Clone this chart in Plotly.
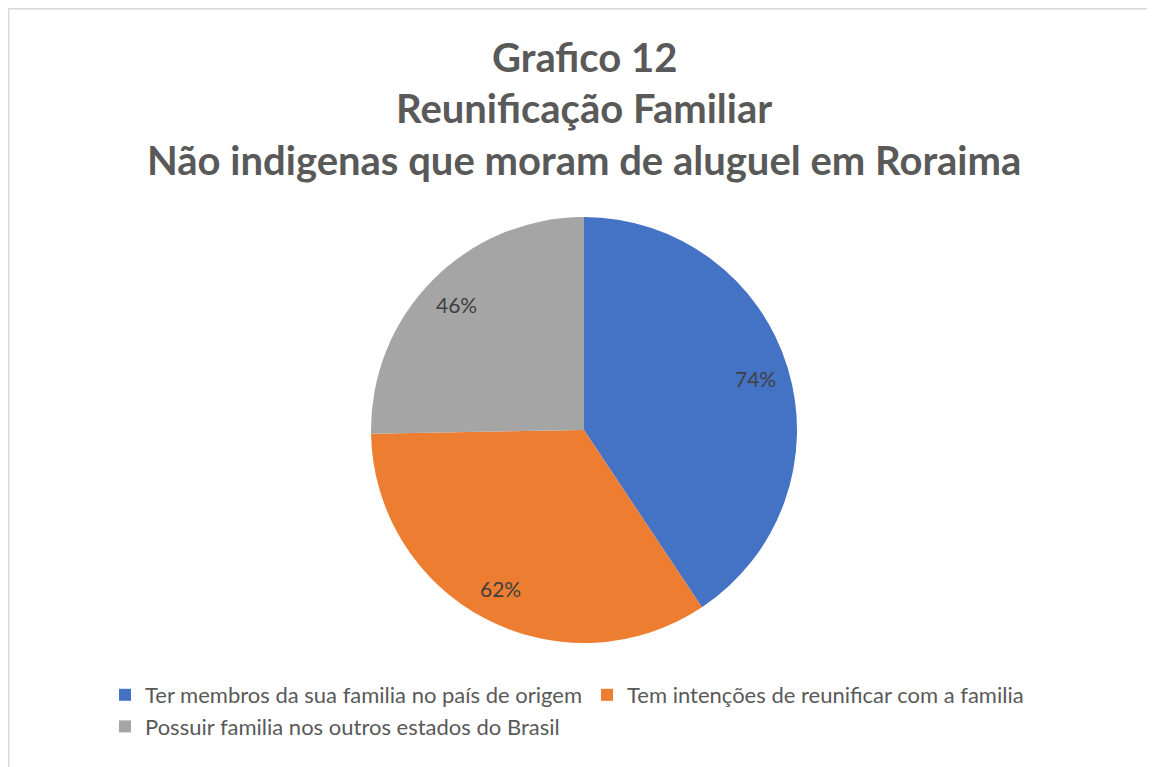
import math
import plotly.graph_objects as go

labels = [
    "Ter membros da sua familia no país de origem",
    "Tem intenções de reunificar com a familia",
    "Possuir familia nos outros estados do Brasil",
]
values = [74, 62, 46]
colors = ["#4472C4", "#ED7D31", "#A5A5A5"]
title_lines = [
    "Grafico 12",
    "Reunificação Familiar",
    "Não indigenas que moram de aluguel em Roraima",
]

W, H = 1155, 767
OFF = 8  # page body margin
cx, cy, r = 584 - OFF, 430 - OFF, 213


def px(x):
    return x / W


def py(y):
    return 1 - y / H


fig = go.Figure(
    go.Pie(
        labels=labels,
        values=values,
        sort=False,
        direction="clockwise",
        rotation=0,
        marker=dict(colors=colors, line=dict(width=0)),
        textinfo="none",
        domain=dict(x=[px(cx - r), px(cx + r)], y=[py(cy + r), py(cy - r)]),
        hoverinfo="label+value",
    )
)

# data labels placed along each slice's mid-angle (Excel "best fit" style)
annotations = []
total = sum(values)
cum = 0
for v in values:
    mid = (cum + v / 2) / total * 2 * math.pi
    cum += v
    d = 0.84 * r
    annotations.append(dict(
        x=px(cx + d * math.sin(mid)), y=py(cy - d * math.cos(mid)),
        xref="paper", yref="paper", showarrow=False,
        text=f"{v}%", font=dict(family="Lato", size=21, color="#404040"),
        xanchor="center", yanchor="middle",
    ))

for line, yc in zip(title_lines, [57, 108, 160]):
    annotations.append(dict(
        x=px(584 - OFF), y=py(yc - OFF), xref="paper", yref="paper",
        showarrow=False, text=f"<b>{line}</b>",
        font=dict(family="Lato", size=40, color="#595959"),
        xanchor="center", yanchor="middle",
    ))

fig.update_layout(
    width=W,
    height=H,
    margin=dict(l=0, r=0, t=0, b=0),
    paper_bgcolor="white",
    plot_bgcolor="white",
    font=dict(family="Lato", color="#595959"),
    annotations=annotations,
    legend=dict(
        orientation="h",
        x=px(567 - OFF),
        xanchor="center",
        y=py(674 - OFF),
        yanchor="top",
        font=dict(family="Lato", size=22, color="#595959"),
        itemclick=False,
    ),
    shapes=[
        dict(type="line", xref="paper", yref="paper", x0=0, x1=1.0, y0=py(0.75), y1=py(0.75),
             line=dict(color="#d9d9d9", width=1.5)),
        dict(type="line", xref="paper", yref="paper", x0=px(0.75), x1=px(0.75), y0=0, y1=py(0.75),
             line=dict(color="#d9d9d9", width=1.5)),
    ],
)

fig.write_html("out.html")
